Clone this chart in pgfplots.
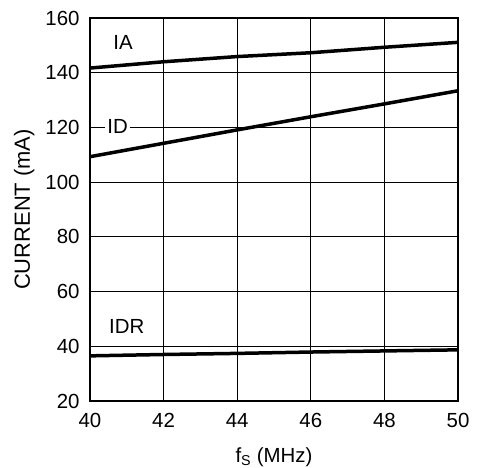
\documentclass[border=0pt]{standalone}
\usepackage{fontspec}
\setmainfont{Liberation Sans}
\usepackage{pgfplots}
\pgfplotsset{compat=1.18}
\begin{document}
\begin{tikzpicture}
\useasboundingbox (0,0) rectangle (480bp,468bp);
\begin{axis}[
  at={(90bp,67bp)}, anchor=south west,
  scale only axis, width=368bp, height=383bp,
  xmin=40, xmax=50, ymin=20, ymax=160,
  xtick={40,42,44,46,48,50},
  ytick={20,40,60,80,100,120,140,160},
  grid=major,
  major grid style={black, line width=1.2bp},
  axis line style={line width=2bp},
  major tick length=0pt,
  tick label style={font=\fontsize{20.5}{24}\selectfont},
  /pgf/number format/assume math mode=true,
  yticklabel style={xshift=-7bp},
  xticklabel style={yshift=-9bp},
  xlabel={f\textsubscript{S} (MHz)},
  ylabel={CURRENT (mA)},
  xlabel style={font=\fontsize{20.5}{24}\selectfont, at={(axis description cs:0.5,-0.146)}, anchor=center},
  ylabel style={font=\fontsize{22}{26}\selectfont, at={(axis description cs:-0.179,0.5)}, anchor=center},
]
\addplot[black, line width=3.5bp] coordinates {(40,141.7)(42,144.0)(44,145.9)(46,147.3)(48,149.3)(50,151.1)};
\addplot[black, line width=3.5bp] coordinates {(40,109.3)(42,114.2)(44,119.1)(46,123.9)(48,128.6)(50,133.4)};
\addplot[black, line width=3.5bp] coordinates {(40,36.5)(42,37.0)(44,37.4)(46,37.9)(48,38.3)(50,38.7)};
\node[font=\fontsize{20.5}{24}\selectfont, inner sep=0pt] at (axis cs:40.9,151.2) {IA};
\node[font=\fontsize{20.5}{24}\selectfont, fill=white, inner sep=2bp] at (axis cs:40.75,120.2) {ID};
\node[font=\fontsize{20.5}{24}\selectfont, inner sep=0pt] at (axis cs:41.0,47.2) {IDR};
\end{axis}
\end{tikzpicture}
\end{document}
